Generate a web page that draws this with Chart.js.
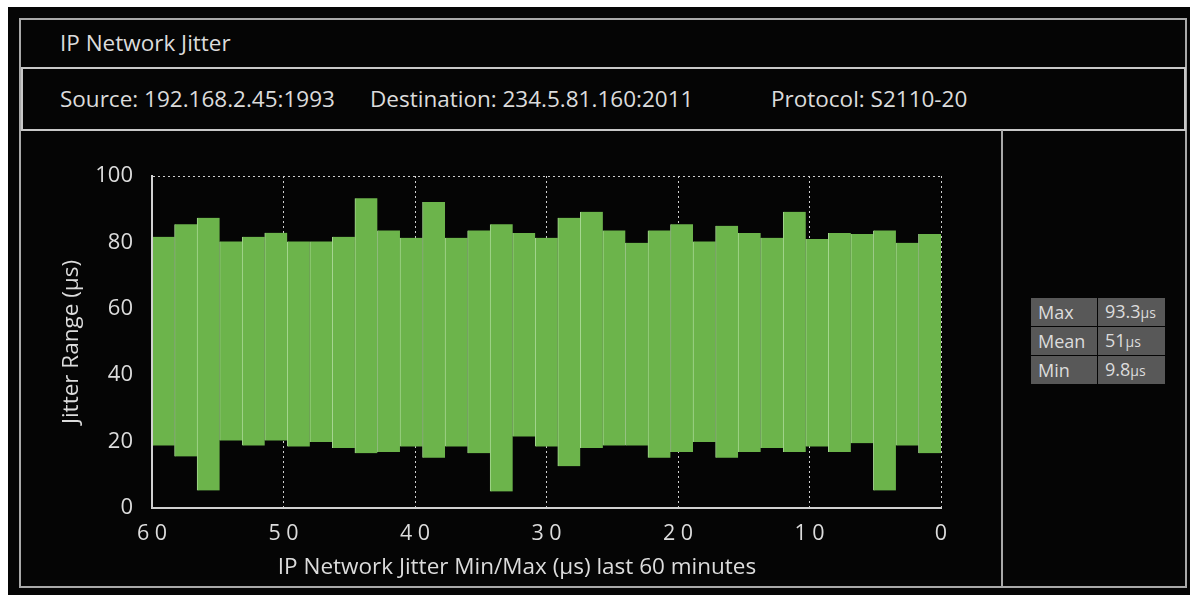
<!DOCTYPE html>
<html>
<head>
<meta charset="utf-8">
<script src="https://cdn.jsdelivr.net/npm/chart.js@4.4.1/dist/chart.umd.min.js"></script>
<style>
    body { margin: 0; width: 1195px; height: 595px; background: #fff; font-family: "Open Sans", sans-serif; color: #dcdcdc; overflow: hidden; }
    #panel { position: absolute; left: 8px; top: 7px; width: 1182px; height: 588px; background: #050505; }
    .box { position: absolute; box-sizing: border-box; }
    #frame { left: 19px; top: 18px; width: 1168px; height: 570px; border: 2px solid #a9a9a9; }
    #srcbox { left: 21px; top: 67px; width: 1165px; height: 64px; border: 2px solid #c8c8c8; }
    #divider { left: 1001px; top: 130px; width: 2px; height: 457px; background: #a9a9a9; }
    .txt { position: absolute; font-size: 22.5px; white-space: nowrap; }
    #chartWrap { position: absolute; left: 22px; top: 131px; width: 990px; height: 455px; }
    #stats { position: absolute; left: 1030px; top: 297px; border-collapse: separate; border-spacing: 1.5px; font-size: 18px; }
    #stats td { background: #585858; color: #dcdcdc; height: 27px; padding: 0 0 0 7px; line-height: 27px; }
    #stats td.lab { width: 59px; }
    #stats td.val { width: 60px; }
    #stats .u { font-size: 14px; }
</style>
</head>
<body>
<div id="panel"></div>
<div class="box" id="frame"></div>
<div class="box" id="srcbox"></div>
<div class="box" id="divider"></div>
<div class="txt" style="left:60px; top:27px;">IP Network Jitter</div>
<div class="txt" style="left:60px; top:83px;">Source: 192.168.2.45:1993</div>
<div class="txt" style="left:370px; top:83px;">Destination: 234.5.81.160:2011</div>
<div class="txt" style="left:771px; top:83px;">Protocol: S2110-20</div>
<div id="chartWrap"><canvas id="jitterChart" width="990" height="455"></canvas></div>
<table id="stats"></table>

<script>
// Min/max jitter per bin, oldest on the left (us)
const binLabels = ['1','2','3','4','5','6','7','8','9','10','11','12','13','14','15','16','17','18',
    '19','20','21','22','23','24','25','26','27','28','29','30','31','32','33','34','35'];
const jitterMax = [81.7, 85.5, 87.4, 80.3, 81.7, 82.9, 80.3, 80.3, 81.7, 93.3, 83.6, 81.4, 92.2, 81.4,
    83.6, 85.5, 82.8, 81.4, 87.4, 89.2, 83.6, 79.9, 83.6, 85.5, 80.3, 85.0, 82.8, 81.4, 89.2, 81.0,
    82.8, 82.5, 83.6, 79.9, 82.5];
const jitterMin = [18.8, 15.5, 5.3, 20.3, 18.8, 20.3, 18.5, 19.9, 18.1, 16.5, 16.9, 18.5, 15.1, 18.5,
    16.5, 5.0, 21.5, 18.5, 12.6, 18.1, 18.8, 18.8, 15.1, 16.9, 19.9, 15.1, 16.9, 18.1, 16.9, 18.5,
    16.9, 19.5, 5.3, 18.8, 16.5];
const minuteTicks = [60, 50, 40, 30, 20, 10, 0];
const yTicks = [0, 20, 40, 60, 80, 100];

const statNames = ['Max', 'Mean', 'Min'];
const statValues = ['93.3', '51', '9.8'];

// stats table on the right
const table = document.getElementById('stats');
statNames.forEach(function(name, i) {
    const row = table.insertRow();
    const a = row.insertCell();
    a.className = 'lab';
    a.textContent = name;
    const b = row.insertCell();
    b.className = 'val';
    b.innerHTML = statValues[i] + '<span class="u">µs</span>';
});

const textColor = '#dcdcdc';

const ctx = document.getElementById('jitterChart').getContext('2d');
new Chart(ctx, {
    type: 'bar',
    data: {
        labels: binLabels,
        datasets: [{
            label: 'Jitter',
            data: jitterMin.map((lo, i) => [lo, jitterMax[i]]),
            backgroundColor: '#6cb44b',
            borderColor: '#a8d893',
            borderWidth: { left: 1, right: 0, top: 0, bottom: 0 },
            borderSkipped: false,
            barPercentage: 1,
            categoryPercentage: 1,
            xAxisID: 'x',
            yAxisID: 'y'
        }]
    },
    options: {
        responsive: false,
        animation: false,
        layout: { padding: { top: 45, right: 0, left: 0, bottom: 0 } },
        plugins: {
            legend: { display: false },
            tooltip: { enabled: false },
            title: {
                display: true,
                position: 'bottom',
                text: 'IP Network Jitter Min/Max (µs) last 60 minutes',
                color: textColor,
                font: { family: 'Open Sans', size: 22.5, weight: 'normal' },
                padding: { top: 0, bottom: 4.5 }
            }
        },
        scales: {
            x: {
                type: 'category',
                display: false,
                offset: true
            },
            xt: {
                type: 'linear',
                axis: 'x',
                position: 'bottom',
                min: 0,
                max: 60,
                reverse: true,
                offset: false,
                afterBuildTicks: function(scale) {
                    scale.ticks = minuteTicks.map(v => ({ value: v }));
                },
                afterFit: function(scale) { scale.height = 46.5; },
                ticks: {
                    color: textColor,
                    font: { family: 'Open Sans', size: 21.5 },
                    padding: 13,
                    maxRotation: 0,
                    callback: v => String(v).split('').join(' ')
                },
                grid: { color: '#cfcfcf', lineWidth: 1, drawTicks: false, offset: false },
                border: { display: true, color: '#d0d0d0', width: 2, dash: [2, 3], z: 1 }
            },
            y: {
                position: 'left',
                min: 0,
                max: 100,
                afterBuildTicks: function(scale) {
                    scale.ticks = yTicks.map(v => ({ value: v }));
                },
                afterFit: function(scale) { scale.width = 130; },
                ticks: {
                    color: textColor,
                    font: { family: 'Open Sans', size: 22 },
                    padding: 19
                },
                grid: {
                    drawTicks: false,
                    lineWidth: 1,
                    color: c => (c.tick && c.tick.value === 100) ? '#cfcfcf' : 'rgba(0,0,0,0)'
                },
                border: { display: true, color: '#d0d0d0', width: 2, dash: [2, 3], z: 1 },
                title: {
                    display: true,
                    text: 'Jitter Range (µs)',
                    color: textColor,
                    font: { family: 'Open Sans', size: 22.5 },
                    padding: { top: 36.5, bottom: 0 }
                }
            },
            yr: {
                type: 'linear',
                axis: 'y',
                position: 'right',
                afterFit: function(scale) { scale.width = 71; },
                ticks: { display: false },
                grid: { display: false },
                border: { display: false }
            }
        }
    }
});
</script>
</body>
</html>
